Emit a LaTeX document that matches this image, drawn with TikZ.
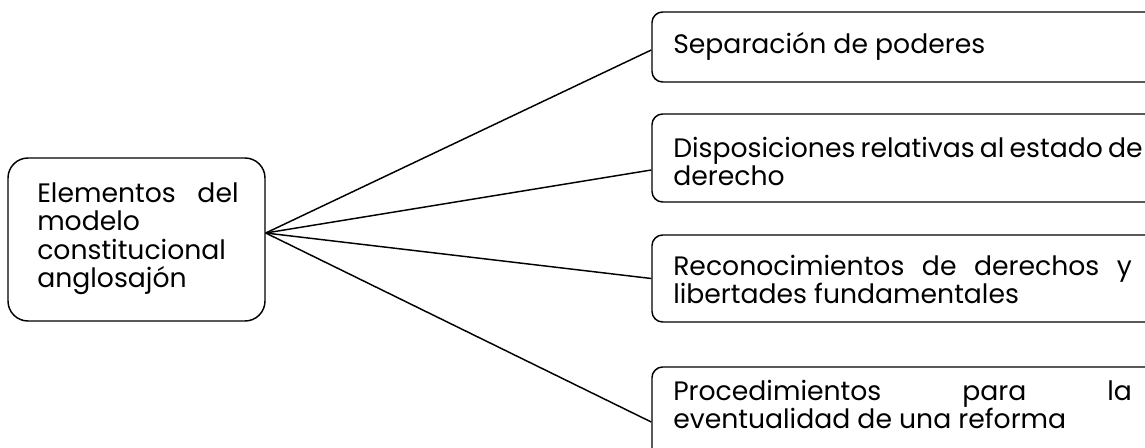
\documentclass[tikz,border=0pt]{standalone}
\usepackage{fontspec}
\setmainfont{Poppins}
\usetikzlibrary{calc}
\hyphenpenalty=10000
\exhyphenpenalty=10000
\tikzset{
  box/.style={draw, line width=1.1pt, rounded corners=8pt, inner sep=0pt},
  bigbox/.style={box, rounded corners=15pt},
  txt/.style={anchor=base west, inner sep=0pt, align=justify,
    font=\fontsize{20}{21.3}\selectfont},
  link/.style={line width=1.1pt}
}
\begin{document}
\begin{tikzpicture}[x=0.75pt,y=-0.75pt]
\useasboundingbox (0,0) rectangle (1145,447);
\clip (0,0) rectangle (1145,447);
\node[bigbox, minimum width=192.75pt, minimum height=122.25pt] (b0) at (136.5,239.5) {};
\node[box, minimum width=381pt, minimum height=52.5pt] (b1) at (906,47) {};
\node[box, minimum width=381pt, minimum height=66pt] (b2) at (906,158) {};
\node[box, minimum width=381pt, minimum height=65.25pt] (b3) at (906,278.5) {};
\node[box, minimum width=381pt, minimum height=84.75pt] (b4) at (906,423.5) {};
\node[txt, text width=151pt] (t0) at (37,202) {\baselineskip=21.4pt Elementos del\linebreak modelo\\ constitucional\\ anglosajón\par};
\node[txt, text width=344pt] (t1) at (673,53) {Separación de poderes};
\node[txt, text width=352pt] (t2) at (673,157) {\baselineskip=21pt \spaceskip=0.2em plus 0.3em minus 0.1em Disposiciones relativas al estado de\\ derecho\par};
\node[txt, text width=344pt] (t3) at (673,275) {\baselineskip=21pt Reconocimientos de derechos y libertades fundamentales\par};
\node[txt, text width=344pt] (t4) at (673,400) {\baselineskip=21pt Procedimientos para la\linebreak eventualidad de una reforma\par};
\coordinate (hub) at ($(b0.east)+(0,-6.5)$);
\draw[link] (hub) -- ($(b1.west)+(0,3)$);
\draw[link] (hub) -- ($(b2.west)+(0,12)$);
\draw[link] (hub) -- (b3.west);
\draw[link] (hub) -- ($(b4.west)+(0,-1.5)$);
\end{tikzpicture}
\end{document}
